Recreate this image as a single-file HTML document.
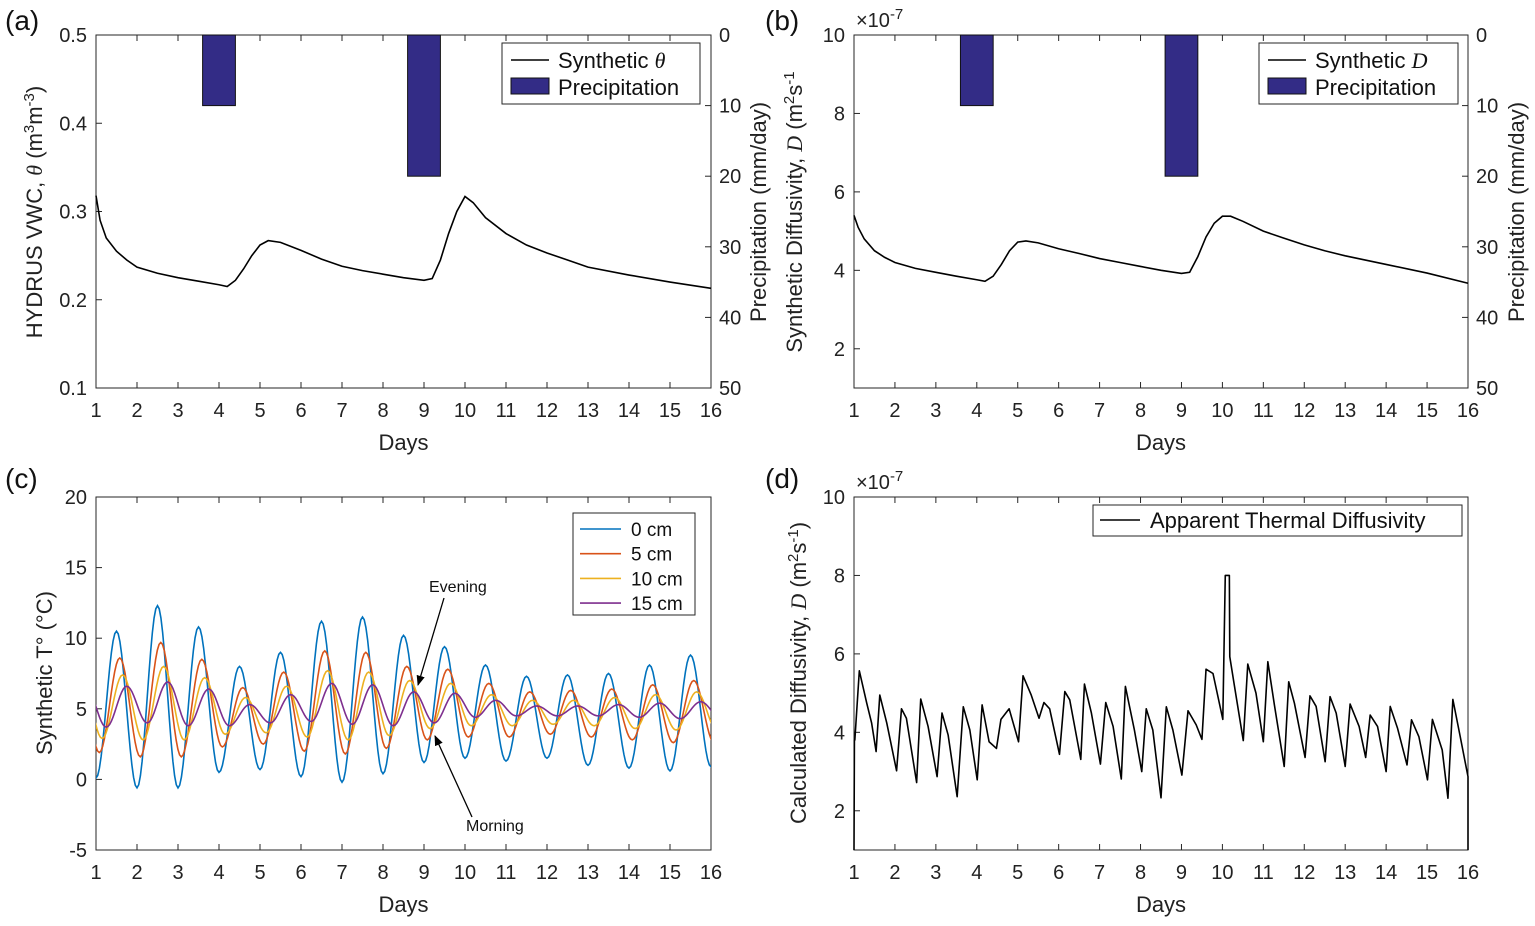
<!DOCTYPE html>
<html><head><meta charset="utf-8">
<style>
html,body{margin:0;padding:0;background:#fff;}
svg{display:block;font-family:"Liberation Sans",sans-serif;}
</style></head>
<body>
<svg id="fig" width="1535" height="926" viewBox="0 0 1535 926" xmlns="http://www.w3.org/2000/svg"></svg>
<script>
// ---------- data ----------
const dayTicks = [1,2,3,4,5,6,7,8,9,10,11,12,13,14,15,16];
const thetaDays = [1,1.1,1.25,1.5,1.75,2,2.5,3,3.5,4,4.2,4.4,4.6,4.8,5,5.2,5.5,6,6.5,7,7.5,8,8.5,9,9.2,9.4,9.6,9.8,10,10.2,10.5,11,11.5,12,12.5,13,14,15,16];
const thetaVals = [0.318,0.29,0.27,0.255,0.245,0.237,0.23,0.225,0.221,0.217,0.215,0.222,0.235,0.25,0.262,0.267,0.265,0.256,0.246,0.238,0.233,0.229,0.225,0.222,0.224,0.245,0.275,0.3,0.317,0.31,0.293,0.275,0.262,0.253,0.245,0.237,0.228,0.22,0.213];
const diffVals = [5.4,5.1,4.8,4.5,4.33,4.2,4.05,3.95,3.85,3.76,3.72,3.85,4.15,4.5,4.72,4.75,4.7,4.55,4.43,4.3,4.2,4.1,4.0,3.92,3.95,4.35,4.85,5.2,5.38,5.38,5.25,5.0,4.82,4.65,4.5,4.37,4.15,3.93,3.67];
const precipStart = [3.6,8.6];
const precipEnd = [4.4,9.4];
const precipVals = [10,20];
const tempLabels = ['0 cm','5 cm','10 cm','15 cm'];
const tempLag = [0,0.08,0.15,0.25];
const tempPeaks0 = [10.5,12.3,10.8,8.0,9.0,11.2,11.5,10.2,9.4,8.1,7.3,7.4,7.5,8.1,8.8];
const tempTroughs0 = [0.1,-0.6,-0.6,0.5,0.7,0.2,-0.2,0.4,1.2,1.5,1.3,1.5,1.0,0.8,0.6,0.9];
const tempPeaks5 = [8.6,9.7,8.5,6.5,7.6,9.1,9.0,8.0,7.8,6.8,6.2,6.3,6.4,6.7,7.0];
const tempTroughs5 = [1.9,1.6,1.6,2.3,2.5,2.0,1.8,2.2,2.8,3.0,3.0,3.2,3.0,2.8,2.6,2.6];
const tempPeaks10 = [7.4,8.0,7.2,5.8,6.6,7.7,7.6,7.0,6.8,6.0,5.6,5.6,5.8,6.0,6.2];
const tempTroughs10 = [2.9,2.8,2.8,3.2,3.3,3.0,2.8,3.1,3.6,3.8,3.8,3.9,3.8,3.6,3.5,3.5];
const tempPeaks15 = [6.6,6.9,6.4,5.3,6.0,6.8,6.7,6.2,6.1,5.6,5.2,5.2,5.3,5.4,5.5];
const tempTroughs15 = [3.7,4.0,3.8,3.8,4.0,4.1,3.9,3.8,4.0,4.4,4.5,4.5,4.5,4.4,4.3,4.3];
const appDays = [1,1.01,1.02,1.13,1.31,1.43,1.54,1.63,1.80,2.04,2.16,2.28,2.53,2.63,2.81,3.03,3.15,3.30,3.52,3.67,3.83,4.01,4.13,4.30,4.48,4.59,4.79,5.02,5.13,5.33,5.52,5.64,5.78,6.02,6.15,6.27,6.54,6.63,6.80,7.02,7.15,7.33,7.53,7.63,7.85,8.03,8.14,8.30,8.50,8.63,8.79,9.01,9.16,9.36,9.50,9.60,9.77,10.01,10.07,10.17,10.18,10.29,10.51,10.62,10.82,11.0,11.11,11.27,11.51,11.62,11.76,12.02,12.14,12.29,12.51,12.63,12.78,13.0,13.12,13.34,13.50,13.61,13.79,14.0,14.10,14.28,14.51,14.62,14.80,15.01,15.13,15.37,15.51,15.63,15.81,16.0,16.0];
const appVals = [1.0,3.8,3.8,5.57,4.75,4.24,3.51,4.95,4.24,3.02,4.6,4.36,2.72,4.85,4.15,2.87,4.49,3.93,2.36,4.65,4.06,2.79,4.70,3.76,3.59,4.33,4.6,3.76,5.44,4.95,4.36,4.76,4.6,3.44,5.04,4.83,3.31,5.23,4.49,3.19,4.76,4.15,2.81,5.17,4.06,3.0,4.6,4.06,2.33,4.65,4.06,2.91,4.55,4.19,3.82,5.61,5.5,4.33,8.0,8.0,5.93,5.21,3.79,5.74,5.0,3.76,5.80,4.70,3.13,5.29,4.74,3.36,4.93,4.66,3.25,4.91,4.49,3.13,4.72,4.15,3.36,4.44,4.15,3.0,4.66,4.1,3.17,4.32,3.89,2.79,4.33,3.55,2.32,4.84,3.89,2.87,1.0];

// ---------- helpers ----------
const NS='http://www.w3.org/2000/svg';
const fig=document.getElementById('fig');
function mk(tag,attrs,parent,text){const e=document.createElementNS(NS,tag);for(const k in attrs)e.setAttribute(k,attrs[k]);if(text!==undefined)e.textContent=text;(parent||fig).appendChild(e);return e;}
const AX='#262626';
function panel(x0,x1,y0,y1,ymin,ymax){return {x0,x1,y0,y1,X:d=>x0+(d-1)*(x1-x0)/15,Y:v=>y1-(v-ymin)*(y1-y0)/(ymax-ymin)};}
function drawAxes(p,name,yticks,ylabelsFmt){
  const g=mk('g',{});
  
  
  const box=mk('rect',{x:p.x0,y:p.y0,width:p.x1-p.x0,height:p.y1-p.y0,fill:'none',stroke:AX,'stroke-width':1},g);
  
  
  dayTicks.forEach(d=>{
    const x=p.X(d);
    mk('line',{x1:x,x2:x,y1:p.y1,y2:p.y1-6,stroke:AX},g);
    mk('line',{x1:x,x2:x,y1:p.y0,y2:p.y0+6,stroke:AX},g);
    const t=mk('text',{x:x,y:p.y1+29,'font-size':20,'text-anchor':'middle',fill:'#222'},g,String(d));
    
    
  });
  yticks.forEach(v=>{
    const y=p.Y(v);
    mk('line',{x1:p.x0,x2:p.x0+6,y1:y,y2:y,stroke:AX},g);
    const t=mk('text',{x:p.x0-9,y:y+7,'font-size':20,'text-anchor':'end',fill:'#222'},g,ylabelsFmt(v));
    
    
  });
  const xt=mk('text',{x:(p.x0+p.x1)/2,y:p.y1+62,'font-size':22,'text-anchor':'middle',fill:'#222'},g,'Days');
  
  
  return g;
}
function rotLabel(x,y,html,name){
  const t=mk('text',{x:0,y:0,'font-size':22,'text-anchor':'middle',fill:'#222',transform:`translate(${x},${y}) rotate(-90)`});
  t.innerHTML=html;
  
  
  return t;
}
function pathFrom(xs,ys,p){return xs.map((d,i)=>(i?'L':'M')+p.X(d).toFixed(2)+','+p.Y(ys[i]).toFixed(2)).join(' ');}
function rightPrecipAxis(p,name){
  const Yp=v=>p.y0+v*(p.y1-p.y0)/50;
  [0,10,20,30,40,50].forEach(v=>{
    mk('line',{x1:p.x1,x2:p.x1-6,y1:Yp(v),y2:Yp(v),stroke:AX});
    const t=mk('text',{x:p.x1+8,y:Yp(v)+7,'font-size':20,fill:'#222'},fig,String(v));
    
    
  });
  precipVals.forEach((v,i)=>{
    const r=mk('rect',{x:p.X(precipStart[i]),y:p.y0,width:p.X(precipEnd[i])-p.X(precipStart[i]),height:Yp(v)-p.y0,fill:'#332c86',stroke:'#111','stroke-width':1});
    
    
  });
}
function panelLetter(x,y,s){const t=mk('text',{x:x,y:y,'font-size':28,fill:'#111'},fig,s);}

// ---------- Panel a ----------
const pa=panel(96,711,35,388,0.1,0.5);
drawAxes(pa,'panel-a',[0.1,0.2,0.3,0.4,0.5],v=>v.toFixed(1));
rightPrecipAxis(pa,'panel-a');
const la=mk('path',{d:pathFrom(thetaDays,thetaVals,pa),fill:'none',stroke:'#000','stroke-width':1.6});


rotLabel(42,212,'HYDRUS VWC, <tspan font-style="italic" font-family="Liberation Serif">θ</tspan> (m<tspan dy="-8" font-size="15">3</tspan><tspan dy="8">m</tspan><tspan dy="-8" font-size="15">-3</tspan><tspan dy="8">)</tspan>','panel-a-y-axis-title');
rotLabel(766,212,'Precipitation (mm/day)','panel-a-right-axis-title');
panelLetter(5,30,'(a)');
function legend2(x,y,w,label,name){
  const g=mk('g',{});
  
  
  mk('rect',{x:x,y:y,width:w,height:61,fill:'#fff',stroke:AX},g);
  mk('line',{x1:x+9,x2:x+47,y1:y+17,y2:y+17,stroke:'#000','stroke-width':1.6},g);
  const t1=mk('text',{x:x+56,y:y+25,'font-size':22,fill:'#111'},g);
  t1.innerHTML=label;
  
  
  mk('rect',{x:x+9,y:y+35,width:38,height:16,fill:'#332c86',stroke:'#111'},g);
  const t2=mk('text',{x:x+56,y:y+52,'font-size':22,fill:'#111'},g,'Precipitation');
  
  
}
legend2(502,43,198,'Synthetic <tspan font-style="italic" font-family="Liberation Serif">θ</tspan>','panel-a-legend');

// ---------- Panel b ----------
const pb=panel(854,1468,35,388,1,10);
drawAxes(pb,'panel-b',[2,4,6,8,10],v=>String(v));
rightPrecipAxis(pb,'panel-b');
const lb=mk('path',{d:pathFrom(thetaDays,diffVals,pb),fill:'none',stroke:'#000','stroke-width':1.6});


const eb=mk('text',{x:856,y:27,'font-size':20,fill:'#222'});
eb.innerHTML='×10<tspan dy="-8" font-size="15">-7</tspan>';


rotLabel(802,212,'Synthetic Diffusivity, <tspan font-style="italic" font-family="Liberation Serif">D</tspan> (m<tspan dy="-8" font-size="15">2</tspan><tspan dy="8">s</tspan><tspan dy="-8" font-size="15">-1</tspan><tspan dy="8"></tspan>','panel-b-y-axis-title');
rotLabel(1524,212,'Precipitation (mm/day)','panel-b-right-axis-title');
panelLetter(765,30,'(b)');
legend2(1259,43,199,'Synthetic <tspan font-style="italic" font-family="Liberation Serif">D</tspan>','panel-b-legend');

// ---------- Panel c ----------
const pc=panel(96,711,497,850,-5,20);
drawAxes(pc,'panel-c',[-5,0,5,10,15,20],v=>String(v));
const clip=mk('clipPath',{id:'clipc'});
mk('rect',{x:pc.x0,y:pc.y0,width:pc.x1-pc.x0,height:pc.y1-pc.y0},clip);
const tColors=['#0072BD','#D95319','#EDB120','#7E2F8E'];
const tPeaks=[tempPeaks0,tempPeaks5,tempPeaks10,tempPeaks15];
const tTroughs=[tempTroughs0,tempTroughs5,tempTroughs10,tempTroughs15];
tPeaks.forEach((pk,s)=>{
  const tr=tTroughs[s],lag=tempLag[s];
  const ex=[[0.5+lag,pk[0]]];
  for(let k=0;k<tr.length;k++){ex.push([1+k+lag,tr[k]]);if(k<pk.length)ex.push([1.5+k+lag,pk[k]]);}
  ex.push([16.5+lag,pk[pk.length-1]]);
  let d='';
  for(let i=0;i<ex.length-1;i++){
    const [t0,v0]=ex[i],[t1,v1]=ex[i+1];
    for(let j=(i?1:0);j<=12;j++){const f=j/12,w=(1-Math.cos(Math.PI*f))/2;
      d+=(d?'L':'M')+pc.X(t0+(t1-t0)*f).toFixed(2)+','+pc.Y(v0+(v1-v0)*w).toFixed(2);}
  }
  const l=mk('path',{d:d,fill:'none',stroke:tColors[s],'stroke-width':1.6,'clip-path':'url(#clipc)'});
  
  
});
rotLabel(52,673,'Synthetic  T° (°C)','panel-c-y-axis-title');
panelLetter(5,488,'(c)');
const lgc=mk('g',{});


mk('rect',{x:573,y:513,width:122,height:102,fill:'#fff',stroke:AX},lgc);
tempLabels.forEach((s,i)=>{
  const y=529+i*24.7;
  mk('line',{x1:580,x2:621,y1:y,y2:y,stroke:tColors[i],'stroke-width':1.6},lgc);
  const t=mk('text',{x:631,y:y+7,'font-size':19,fill:'#111'},lgc,s);
  
  
});
mk('defs',{}).innerHTML='<marker id="ah" viewBox="0 0 10 10" refX="9" refY="5" markerWidth="8" markerHeight="8" orient="auto"><path d="M0,1 L10,5 L0,9 z" fill="#000"/></marker>';
const ae=mk('line',{x1:444,y1:598,x2:418,y2:685,stroke:'#000','stroke-width':1.3,'marker-end':'url(#ah)'});


const te=mk('text',{x:429,y:592,'font-size':16,fill:'#111'},fig,'Evening');


const am=mk('line',{x1:472,y1:817,x2:435,y2:736,stroke:'#000','stroke-width':1.3,'marker-end':'url(#ah)'});


const tm=mk('text',{x:466,y:831,'font-size':16,fill:'#111'},fig,'Morning');



// ---------- Panel d ----------
const pd=panel(854,1468,497,850,1,10);
drawAxes(pd,'panel-d',[2,4,6,8,10],v=>String(v));
const ld=mk('path',{d:pathFrom(appDays,appVals,pd),fill:'none',stroke:'#000','stroke-width':1.6,'stroke-linejoin':'round'});


const ed=mk('text',{x:856,y:489,'font-size':20,fill:'#222'});
ed.innerHTML='×10<tspan dy="-8" font-size="15">-7</tspan>';


rotLabel(806,673,'Calculated Diffusivity, <tspan font-style="italic" font-family="Liberation Serif">D</tspan> (m<tspan dy="-8" font-size="15">2</tspan><tspan dy="8">s</tspan><tspan dy="-8" font-size="15">-1</tspan><tspan dy="8">)</tspan>','panel-d-y-axis-title');
panelLetter(765,488,'(d)');
const lgd=mk('g',{});


mk('rect',{x:1093,y:505,width:369,height:31,fill:'#fff',stroke:AX},lgd);
mk('line',{x1:1100,x2:1140,y1:520,y2:520,stroke:'#000','stroke-width':1.6},lgd);
const tdl=mk('text',{x:1150,y:528,'font-size':22,fill:'#111'},lgd,'Apparent Thermal Diffusivity');


</script>
</body></html>
